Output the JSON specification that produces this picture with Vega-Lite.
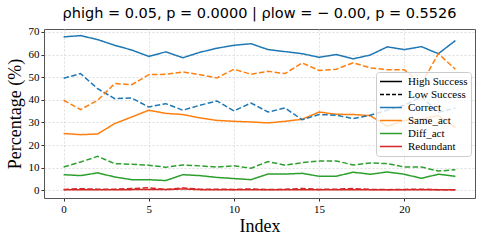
{
  "$schema": "https://vega.github.io/schema/vega-lite/v6.json",
  "width": 431,
  "height": 169,
  "autosize": "none",
  "padding": {"left": 44, "top": 29, "right": 9, "bottom": 44},
  "background": "white",
  "config": {
    "view": {"stroke": "#555", "strokeWidth": 1},
    "axis": {
      "domain": false,
      "grid": true,
      "gridColor": "#d5d5d5",
      "gridDash": [2, 2],
      "gridWidth": 0.8,
      "tickColor": "#333",
      "tickSize": 3,
      "labelFont": "Liberation Serif",
      "labelFontSize": 11,
      "labelColor": "black",
      "labelPadding": 2,
      "labelOverlap": false,
      "titleFont": "Liberation Serif",
      "titleFontSize": 18,
      "titleFontWeight": "normal",
      "titleColor": "black"
    },
    "title": {"font": "DejaVu Sans", "fontSize": 14.5, "fontWeight": "normal", "color": "black", "offset": 4}
  },
  "title": "ρhigh = 0.05, p = 0.0000 | ρlow = − 0.00, p = 0.5526",
  "datasets": {
    "main": [
      {"i": 0, "s": "High", "Correct": 67.8, "Same_act": 25.1, "Diff_act": 6.9, "Redundant": 0.2},
      {"i": 1, "s": "High", "Correct": 68.4, "Same_act": 24.6, "Diff_act": 6.5, "Redundant": 0.3},
      {"i": 2, "s": "High", "Correct": 66.6, "Same_act": 24.9, "Diff_act": 7.7, "Redundant": 0.3},
      {"i": 3, "s": "High", "Correct": 64.1, "Same_act": 29.5, "Diff_act": 5.9, "Redundant": 0.3},
      {"i": 4, "s": "High", "Correct": 62.0, "Same_act": 32.4, "Diff_act": 4.7, "Redundant": 0.3},
      {"i": 5, "s": "High", "Correct": 59.2, "Same_act": 35.4, "Diff_act": 4.7, "Redundant": 0.4},
      {"i": 6, "s": "High", "Correct": 61.2, "Same_act": 34.0, "Diff_act": 4.3, "Redundant": 0.3},
      {"i": 7, "s": "High", "Correct": 58.6, "Same_act": 33.5, "Diff_act": 6.9, "Redundant": 0.6},
      {"i": 8, "s": "High", "Correct": 61.0, "Same_act": 32.0, "Diff_act": 6.5, "Redundant": 0.3},
      {"i": 9, "s": "High", "Correct": 62.8, "Same_act": 30.9, "Diff_act": 5.7, "Redundant": 0.3},
      {"i": 10, "s": "High", "Correct": 64.1, "Same_act": 30.5, "Diff_act": 5.2, "Redundant": 0.2},
      {"i": 11, "s": "High", "Correct": 64.8, "Same_act": 30.2, "Diff_act": 4.7, "Redundant": 0.3},
      {"i": 12, "s": "High", "Correct": 62.2, "Same_act": 29.8, "Diff_act": 7.2, "Redundant": 0.2},
      {"i": 13, "s": "High", "Correct": 61.3, "Same_act": 30.5, "Diff_act": 7.2, "Redundant": 0.3},
      {"i": 14, "s": "High", "Correct": 60.4, "Same_act": 31.4, "Diff_act": 7.5, "Redundant": 0.2},
      {"i": 15, "s": "High", "Correct": 58.8, "Same_act": 34.6, "Diff_act": 6.2, "Redundant": 0.2},
      {"i": 16, "s": "High", "Correct": 60.0, "Same_act": 33.6, "Diff_act": 6.2, "Redundant": 0.2},
      {"i": 17, "s": "High", "Correct": 58.1, "Same_act": 33.5, "Diff_act": 8.0, "Redundant": 0.3},
      {"i": 18, "s": "High", "Correct": 59.8, "Same_act": 33.0, "Diff_act": 7.1, "Redundant": 0.2},
      {"i": 19, "s": "High", "Correct": 63.4, "Same_act": 28.3, "Diff_act": 8.1, "Redundant": 0.2},
      {"i": 20, "s": "High", "Correct": 62.2, "Same_act": 30.9, "Diff_act": 7.1, "Redundant": 0.2},
      {"i": 21, "s": "High", "Correct": 63.5, "Same_act": 31.5, "Diff_act": 5.3, "Redundant": 0.2},
      {"i": 22, "s": "High", "Correct": 60.4, "Same_act": 33.0, "Diff_act": 7.1, "Redundant": 0.2},
      {"i": 23, "s": "High", "Correct": 66.2, "Same_act": 27.7, "Diff_act": 6.2, "Redundant": 0.2},
      {"i": 0, "s": "Low", "Correct": 49.5, "Same_act": 39.8, "Diff_act": 10.3, "Redundant": 0.4},
      {"i": 1, "s": "Low", "Correct": 51.6, "Same_act": 35.7, "Diff_act": 12.5, "Redundant": 0.7},
      {"i": 2, "s": "Low", "Correct": 44.9, "Same_act": 39.8, "Diff_act": 15.0, "Redundant": 0.5},
      {"i": 3, "s": "Low", "Correct": 40.5, "Same_act": 47.2, "Diff_act": 11.8, "Redundant": 0.5},
      {"i": 4, "s": "Low", "Correct": 40.8, "Same_act": 46.7, "Diff_act": 11.5, "Redundant": 0.8},
      {"i": 5, "s": "Low", "Correct": 36.8, "Same_act": 51.1, "Diff_act": 11.1, "Redundant": 1.1},
      {"i": 6, "s": "Low", "Correct": 38.3, "Same_act": 51.3, "Diff_act": 10.2, "Redundant": 0.4},
      {"i": 7, "s": "Low", "Correct": 35.4, "Same_act": 52.3, "Diff_act": 11.2, "Redundant": 1.0},
      {"i": 8, "s": "Low", "Correct": 37.6, "Same_act": 51.1, "Diff_act": 10.8, "Redundant": 0.5},
      {"i": 9, "s": "Low", "Correct": 39.5, "Same_act": 49.7, "Diff_act": 10.3, "Redundant": 0.5},
      {"i": 10, "s": "Low", "Correct": 35.1, "Same_act": 53.5, "Diff_act": 10.8, "Redundant": 0.4},
      {"i": 11, "s": "Low", "Correct": 38.6, "Same_act": 51.3, "Diff_act": 9.8, "Redundant": 0.6},
      {"i": 12, "s": "Low", "Correct": 34.6, "Same_act": 52.6, "Diff_act": 12.7, "Redundant": 0.3},
      {"i": 13, "s": "Low", "Correct": 36.4, "Same_act": 51.6, "Diff_act": 11.1, "Redundant": 0.5},
      {"i": 14, "s": "Low", "Correct": 31.2, "Same_act": 56.3, "Diff_act": 12.2, "Redundant": 0.8},
      {"i": 15, "s": "Low", "Correct": 33.5, "Same_act": 53.0, "Diff_act": 13.0, "Redundant": 0.4},
      {"i": 16, "s": "Low", "Correct": 33.2, "Same_act": 53.5, "Diff_act": 13.0, "Redundant": 0.5},
      {"i": 17, "s": "Low", "Correct": 31.7, "Same_act": 56.4, "Diff_act": 11.2, "Redundant": 0.8},
      {"i": 18, "s": "Low", "Correct": 33.2, "Same_act": 54.1, "Diff_act": 12.1, "Redundant": 0.4},
      {"i": 19, "s": "Low", "Correct": 35.4, "Same_act": 53.3, "Diff_act": 11.8, "Redundant": 0.3},
      {"i": 20, "s": "Low", "Correct": 37.6, "Same_act": 53.3, "Diff_act": 10.3, "Redundant": 0.4},
      {"i": 21, "s": "Low", "Correct": 41.4, "Same_act": 47.0, "Diff_act": 10.3, "Redundant": 0.5},
      {"i": 22, "s": "Low", "Correct": 34.5, "Same_act": 60.4, "Diff_act": 8.5, "Redundant": 0.3},
      {"i": 23, "s": "Low", "Correct": 36.3, "Same_act": 53.5, "Diff_act": 9.1, "Redundant": 0.2}
    ]
  },
  "encoding": {
    "x": {"field": "i", "type": "quantitative", "scale": {"domain": [-1.15, 24.15], "nice": false, "zero": false},
          "axis": {"values": [0, 5, 10, 15, 20], "title": "Index", "titlePadding": 3}},
    "y": {"field": "v", "type": "quantitative", "scale": {"domain": [-3.4, 71.3], "nice": false, "zero": false},
          "axis": {"values": [0, 10, 20, 30, 40, 50, 60, 70], "title": "Percentage (%)", "titlePadding": 4}}
  },
  "layer": [
    {
      "data": {"name": "main"},
      "transform": [
        {"fold": ["Correct", "Same_act", "Diff_act", "Redundant"], "as": ["cat", "v"]}
      ],
      "mark": {"type": "line", "strokeWidth": 1.5, "clip": true},
      "encoding": {
        "color": {"field": "cat", "type": "nominal",
                  "scale": {"domain": ["Correct", "Same_act", "Diff_act", "Redundant"], "range": ["#1f77b4", "#ff7f0e", "#2ca02c", "#d62728"]},
                  "legend": null},
        "strokeDash": {"field": "s", "type": "nominal",
                       "scale": {"domain": ["High", "Low"], "range": [[1, 0], [5.5, 2.4]]},
                       "legend": null},
        "detail": {"field": "s"}
      }
    },
    {
      "data": {"values": []},
      "mark": {"type": "line", "strokeWidth": 1.5},
      "encoding": {
        "color": {"field": "lg", "type": "nominal",
                  "scale": {"domain": ["High Success", "Low Success", "Correct", "Same_act", "Diff_act", "Redundant"],
                            "range": ["black", "black", "#1f77b4", "#ff7f0e", "#2ca02c", "#d62728"]},
                  "legend": {
                    "orient": "none", "legendX": 332, "legendY": 43,
                    "title": null,
                    "symbolType": "stroke", "symbolSize": 484, "symbolStrokeWidth": 1.5,
                    "clipHeight": 13, "rowPadding": 0,
                    "labelFont": "Liberation Serif", "labelFontSize": 11, "labelColor": "black", "labelOffset": 5,
                    "padding": 3,
                    "fillColor": "rgba(255,255,255,0.8)", "strokeColor": "#ccc", "cornerRadius": 3
                  }},
        "strokeDash": {"field": "lg", "type": "nominal",
                       "scale": {"domain": ["High Success", "Low Success", "Correct", "Same_act", "Diff_act", "Redundant"],
                                 "range": [[1, 0], [4, 2], [1, 0], [1, 0], [1, 0], [1, 0]]}}
      }
    }
  ],
  "resolve": {"scale": {"color": "independent", "strokeDash": "independent"}, "legend": {"color": "independent", "strokeDash": "independent"}}
}
